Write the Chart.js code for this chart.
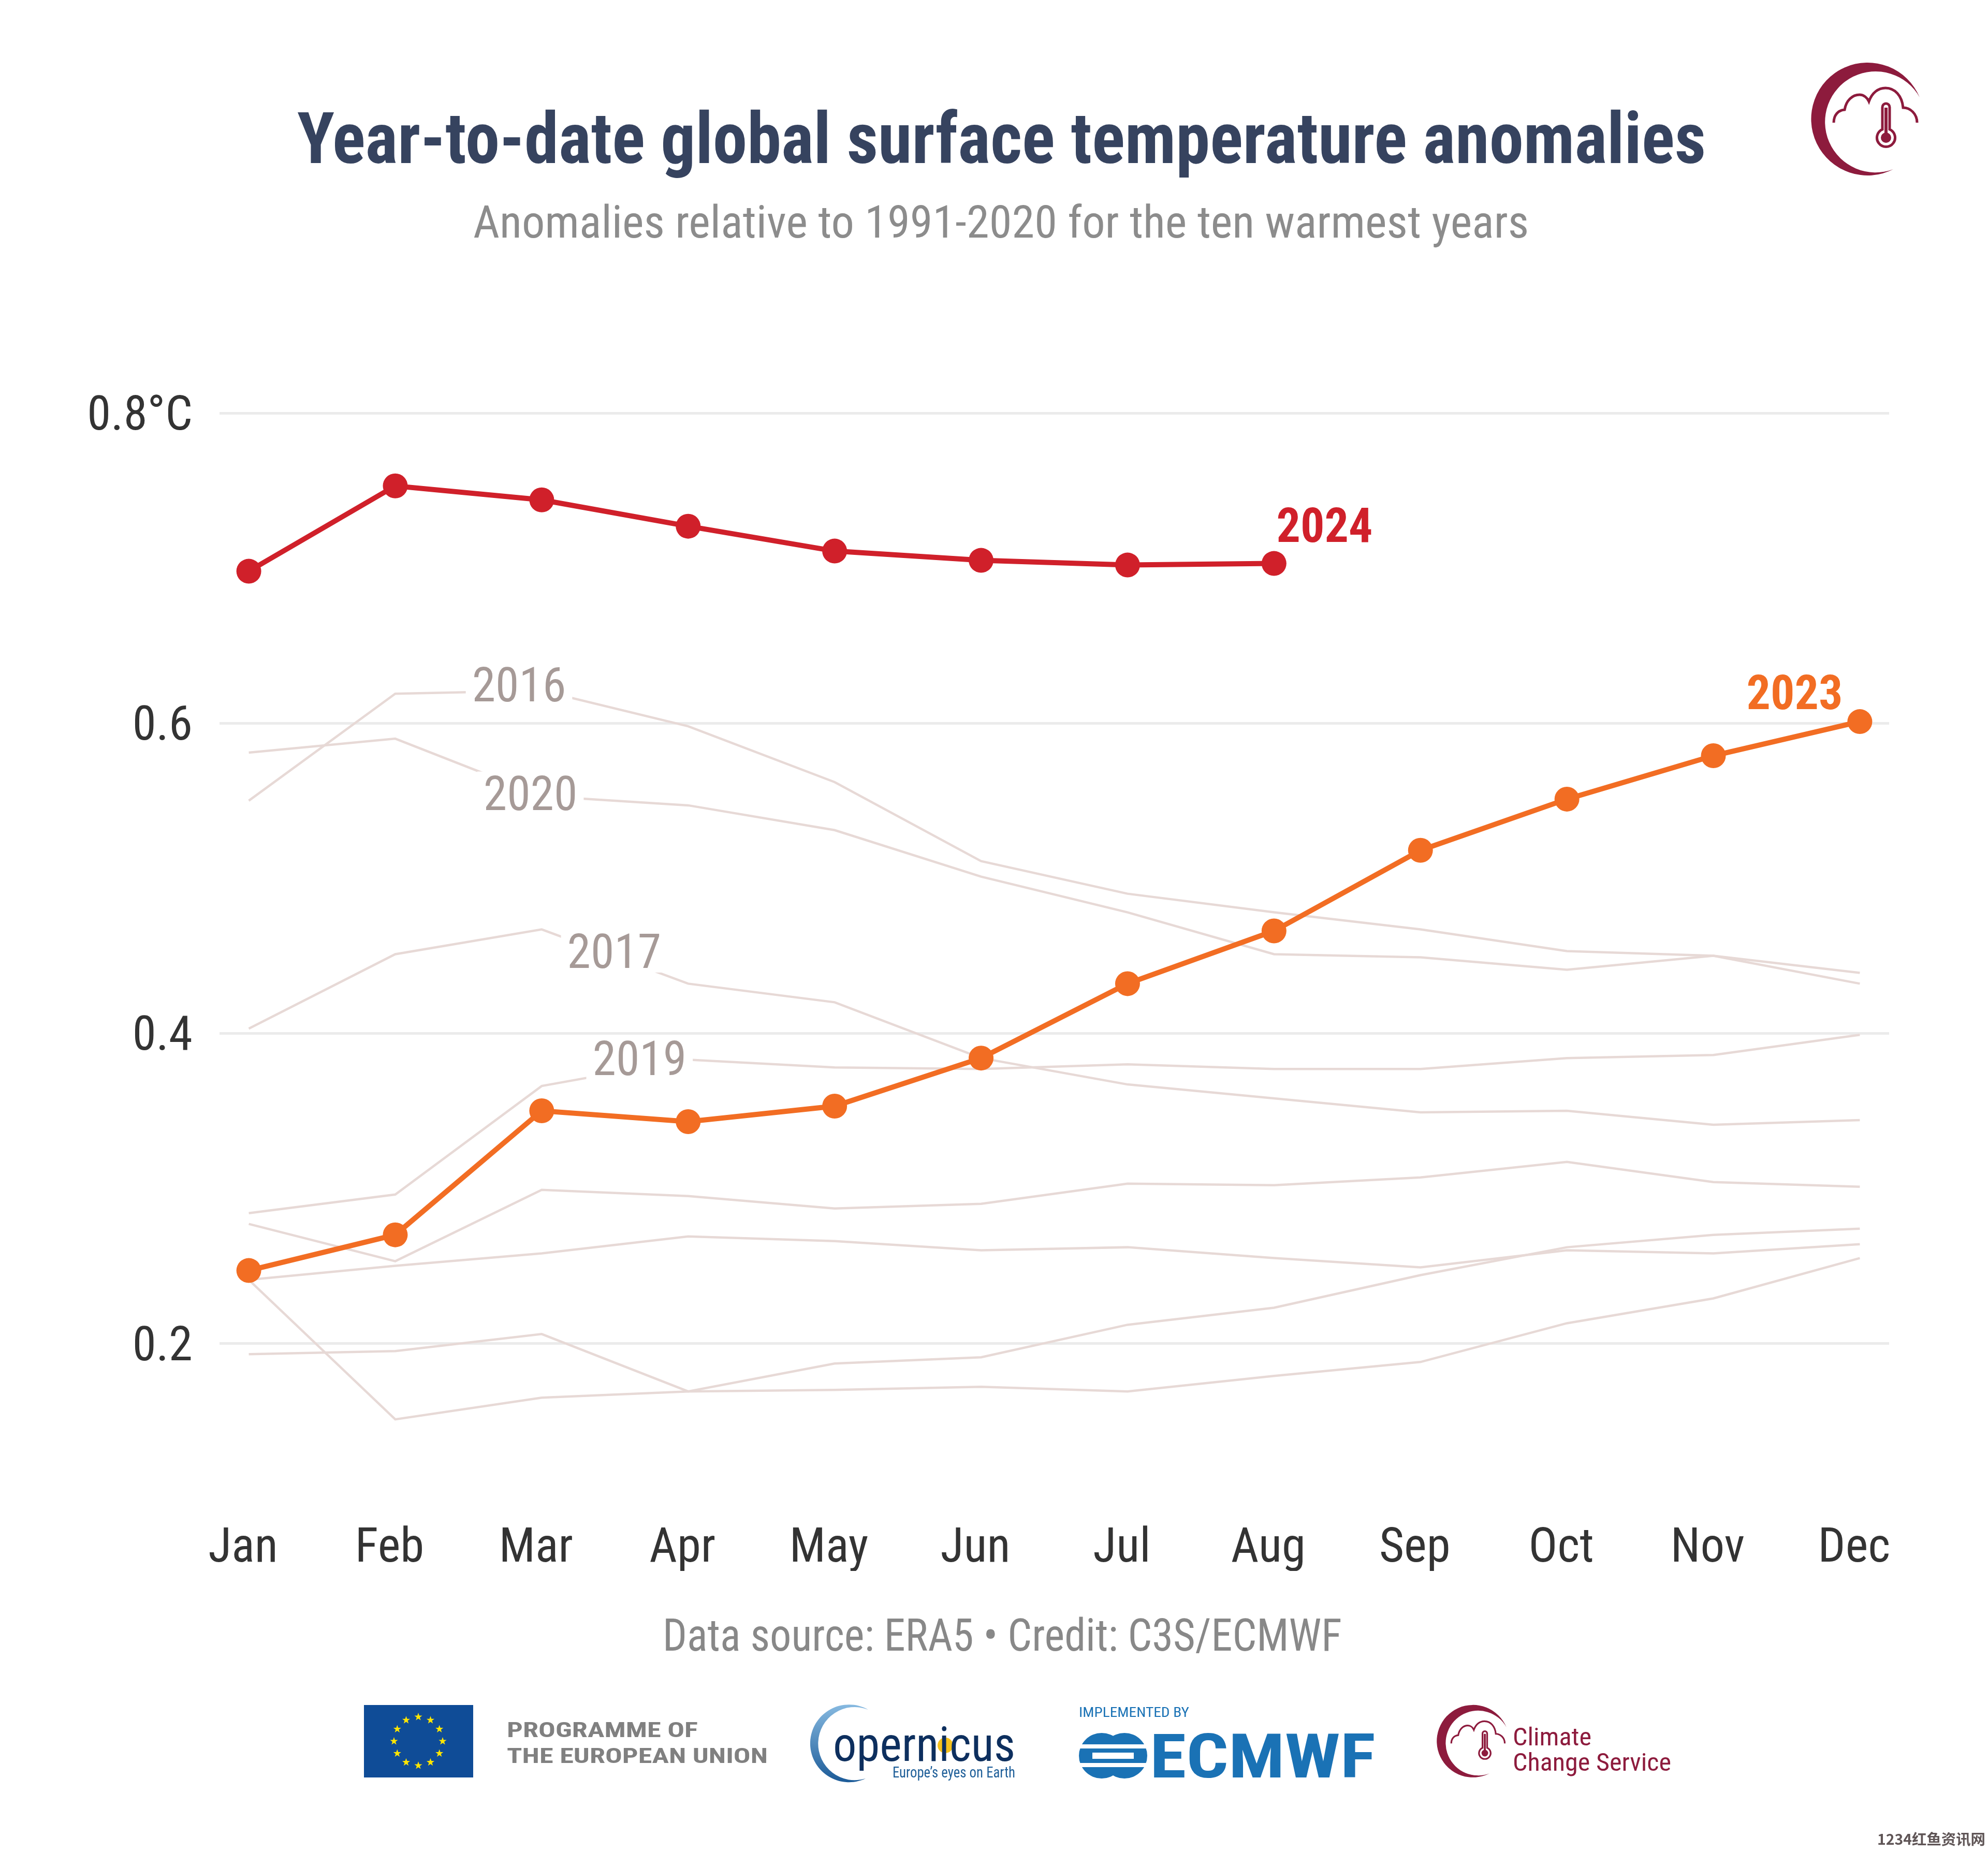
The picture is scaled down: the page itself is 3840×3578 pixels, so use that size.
<!DOCTYPE html>
<html>
<head>
<meta charset="utf-8">
<title>Year-to-date global surface temperature anomalies</title>
<script src="https://cdn.jsdelivr.net/npm/chart.js@4.4.1/dist/chart.umd.min.js"></script>
<style>
  html, body { margin: 0; padding: 0; background: #fff; }
  #page { position: relative; width: 3840px; height: 3578px; overflow: hidden; background: #fff; }
  #chart, #decor { position: absolute; left: 0; top: 0; }
  #decor text { font-family: 'Roboto Condensed', 'Liberation Sans Narrow', 'DejaVu Sans Condensed', Roboto, sans-serif; }
</style>
</head>
<body>
<div id="page">
  <canvas id="chart" width="3840" height="3578"></canvas>
  <svg id="decor" width="3840" height="3578" viewBox="0 0 3840 3578" xmlns="http://www.w3.org/2000/svg">
    <defs>
      <g id="c3sMark">
        <path d="M248 98 A109 109 0 1 0 197 237 A97.6 97.6 0 1 1 248 98 Z" fill="#8d1b3d"/>
        <path d="M82 147 C82 133 90 123 103 122 C106 104 118 93 132 93 C140 93 147 99 150 106 C156 89 168 80 182 80 C200 80 214 95 216 118 C230 118 243 130 243 147"
              fill="none" stroke="#8d1b3d" stroke-width="5"/>
        <path d="M176 160 V117 A7 7 0 0 1 190 117 V160 A17.5 17.5 0 1 1 176 160 Z" fill="#fff" stroke="#8d1b3d" stroke-width="5"/>
        <rect x="180" y="118" width="6" height="50" fill="#8d1b3d"/>
        <circle cx="183" cy="176" r="10" fill="#8d1b3d"/>
      </g>
      <linearGradient id="copGrad" x1="0" y1="0" x2="0" y2="1">
        <stop offset="0" stop-color="#86b9e0"/>
        <stop offset="1" stop-color="#1c5b98"/>
      </linearGradient>
    </defs>

    <!-- header -->
    <text x="574" y="315" font-size="138" font-weight="700" fill="#36435f"
          textLength="2721" lengthAdjust="spacingAndGlyphs">Year-to-date global surface temperature anomalies</text>
    <text x="914" y="459" font-size="88" fill="#8c8c8c"
          textLength="2039" lengthAdjust="spacingAndGlyphs">Anomalies relative to 1991-2020 for the ten warmest years</text>
    <use href="#c3sMark" transform="translate(3460,90)"/>

    <!-- footer -->
    <text x="1280" y="3189" font-size="88" fill="#888888"
          textLength="1312" lengthAdjust="spacingAndGlyphs">Data source: ERA5 • Credit: C3S/ECMWF</text>

    <rect x="703" y="3294" width="211" height="140" fill="#0f4c97"/>
    <g id="euStars" fill="#ffe600"></g>
    <text x="979" y="3356" font-size="40" font-weight="700" fill="#808080"
          textLength="369" lengthAdjust="spacingAndGlyphs">PROGRAMME OF</text>
    <text x="979" y="3406" font-size="40" font-weight="700" fill="#808080"
          textLength="504" lengthAdjust="spacingAndGlyphs">THE EUROPEAN UNION</text>

    <path d="M1677 3303 A75 75 0 1 0 1672 3436 A70.6 70.6 0 1 1 1677 3303 Z" fill="url(#copGrad)"/>
    <circle cx="1826" cy="3372" r="15" fill="#f6c21c"/>
    <text x="1609" y="3402" font-size="92" fill="#0d2f5e"
          textLength="352" lengthAdjust="spacingAndGlyphs">opernicus</text>
    <text x="1724" y="3434" font-size="30" fill="#1f5f99"
          textLength="237" lengthAdjust="spacingAndGlyphs">Europe’s eyes on Earth</text>

    <text x="2084" y="3317" font-size="26" fill="#1a72b5"
          textLength="213" lengthAdjust="spacingAndGlyphs">IMPLEMENTED BY</text>
    <g fill="#1a72b5">
      <circle cx="2128" cy="3392" r="44"/>
      <circle cx="2172" cy="3392" r="44"/>
    </g>
    <g fill="#fff">
      <rect x="2084" y="3370" width="132" height="8"/>
      <rect x="2084" y="3406" width="132" height="8"/>
      <rect x="2110" y="3386" width="80" height="12"/>
    </g>
    <text x="2221" y="3434" font-size="118" font-weight="700" fill="#1a72b5"
          textLength="436" lengthAdjust="spacingAndGlyphs">ECMWF</text>

    <use href="#c3sMark" transform="translate(2750.6,3274) scale(0.642)"/>
    <text x="2922" y="3372" font-size="48" fill="#8d1b3d"
          textLength="152" lengthAdjust="spacingAndGlyphs">Climate</text>
    <text x="2922" y="3421" font-size="48" fill="#8d1b3d"
          textLength="306" lengthAdjust="spacingAndGlyphs">Change Service</text>

    <text x="3626" y="3564" font-size="28" font-weight="700" fill="#5f5556"
          style="font-family:'Noto Sans CJK SC',sans-serif"
          textLength="209" lengthAdjust="spacingAndGlyphs">1234红鱼资讯网</text>
  </svg>
</div>
<script>
// month categories and tick labels
const months = ["Jan", "Feb", "Mar", "Apr", "May", "Jun", "Jul", "Aug", "Sep", "Oct", "Nov", "Dec"];
const yTickValues = [0.2, 0.4, 0.6, 0.8];
const yTickLabels = ["0.2", "0.4", "0.6", "0.8°C"];

// year-to-date anomalies (°C)
const y2024 = [0.698, 0.753, 0.744, 0.727, 0.711, 0.705, 0.702, 0.703];
const y2023 = [0.247, 0.270, 0.350, 0.343, 0.353, 0.384, 0.432, 0.466, 0.518, 0.551, 0.579, 0.601];
const y2016 = [0.550, 0.619, 0.621, 0.598, 0.562, 0.511, 0.490, 0.478, 0.467, 0.453, 0.450, 0.439];
const y2020 = [0.581, 0.590, 0.553, 0.547, 0.531, 0.501, 0.478, 0.451, 0.449, 0.441, 0.450, 0.432];
const y2017 = [0.403, 0.451, 0.467, 0.432, 0.420, 0.384, 0.367, 0.358, 0.349, 0.350, 0.341, 0.344];
const y2019 = [0.284, 0.296, 0.366, 0.383, 0.378, 0.377, 0.380, 0.377, 0.377, 0.384, 0.386, 0.399];
// the other four warm years are not labelled in the chart
const otherA = [0.277, 0.253, 0.299, 0.295, 0.287, 0.290, 0.303, 0.302, 0.307, 0.317, 0.304, 0.301];
const otherB = [0.241, 0.250, 0.258, 0.269, 0.266, 0.260, 0.262, 0.255, 0.249, 0.260, 0.258, 0.264];
const otherC = [0.193, 0.195, 0.206, 0.169, 0.187, 0.191, 0.212, 0.223, 0.244, 0.262, 0.270, 0.274];
const otherD = [0.241, 0.151, 0.165, 0.169, 0.170, 0.172, 0.169, 0.179, 0.188, 0.213, 0.229, 0.255];

const narrow = "'Roboto Condensed', 'Liberation Sans Narrow', 'DejaVu Sans Condensed', Roboto, sans-serif";
const grey = "#e7d9d6";
const red = "#d0202a";
const orange = "#f26d23";

// in-chart year labels, anchored in data units (month index, °C)
const yearLabels = [
  { text: "2016", x: 1.845, y: 0.625, color: "#a69a97", bold: false, box: true },
  { text: "2020", x: 1.923, y: 0.555, color: "#a69a97", bold: false, box: true },
  { text: "2017", x: 2.495, y: 0.453, color: "#a69a97", bold: false, box: true },
  { text: "2019", x: 2.668, y: 0.384, color: "#a69a97", bold: false, box: true },
  { text: "2024", x: 7.345, y: 0.728, color: red, bold: true, box: false },
  { text: "2023", x: 10.555, y: 0.620, color: orange, bold: true, box: false },
];

// EU flag stars
(function () {
  const g = document.getElementById("euStars");
  const cx = 808, cy = 3364, R = 47, r = 8;
  for (let k = 0; k < 12; k++) {
    const a = k * Math.PI / 6;
    const sx = cx + R * Math.sin(a), sy = cy - R * Math.cos(a);
    let d = "";
    for (let j = 0; j < 10; j++) {
      const rr = j % 2 ? r * 0.4 : r;
      const t = j * Math.PI / 5;
      d += (j ? "L" : "M") + (sx + rr * Math.sin(t)).toFixed(1) + " " + (sy - rr * Math.cos(t)).toFixed(1);
    }
    const p = document.createElementNS("http://www.w3.org/2000/svg", "path");
    p.setAttribute("d", d + "Z");
    g.appendChild(p);
  }
})();

const toPoints = arr => arr.map((v, i) => ({ x: i, y: v }));

function greyLine(label, values) {
  return {
    label: label,
    data: toPoints(values),
    borderColor: grey,
    borderWidth: 4.5,
    pointRadius: 0,
    tension: 0,
    order: 3,
  };
}

const yearLabelPlugin = {
  id: "yearLabels",
  afterDatasetsDraw(chart) {
    const { ctx, scales } = chart;
    const size = 92;
    ctx.save();
    yearLabels.forEach(l => {
      ctx.font = (l.bold ? "bold " : "") + size + "px " + narrow;
      const px = scales.x.getPixelForValue(l.x);
      const py = scales.y.getPixelForValue(l.y);
      const w = ctx.measureText(l.text).width;
      if (l.box) {
        ctx.fillStyle = "#fff";
        ctx.fillRect(px - w / 2 - 12, py - size * 0.45, w + 24, size * 0.9);
      }
      ctx.fillStyle = l.color;
      ctx.textAlign = "center";
      ctx.textBaseline = "alphabetic";
      ctx.fillText(l.text, px, py + size * 0.358);
    });
    ctx.restore();
  },
};

new Chart(document.getElementById("chart"), {
  type: "line",
  data: {
    datasets: [
      {
        label: "2024",
        data: toPoints(y2024),
        borderColor: red,
        backgroundColor: red,
        borderWidth: 10,
        pointRadius: 24,
        pointBorderWidth: 0,
        order: 1,
      },
      {
        label: "2023",
        data: toPoints(y2023),
        borderColor: orange,
        backgroundColor: orange,
        borderWidth: 10,
        pointRadius: 24,
        pointBorderWidth: 0,
        order: 2,
      },
      greyLine("2016", y2016),
      greyLine("2020", y2020),
      greyLine("2017", y2017),
      greyLine("2019", y2019),
      greyLine("other A", otherA),
      greyLine("other B", otherB),
      greyLine("other C", otherC),
      greyLine("other D", otherD),
    ],
  },
  options: {
    responsive: false,
    animation: false,
    devicePixelRatio: 1,
    layout: { padding: { top: 798, right: 191, bottom: 543, left: 0 } },
    plugins: {
      legend: { display: false },
      tooltip: { enabled: false },
    },
    scales: {
      x: {
        type: "linear",
        min: -0.2,
        max: 11.2,
        afterBuildTicks: axis => { axis.ticks = months.map((m, i) => ({ value: i })); },
        afterFit: axis => { axis.height = 200; },
        grid: { display: false },
        border: { display: false },
        ticks: {
          callback: v => months[v],
          color: "#333333",
          font: { family: narrow, size: 93 },
          padding: 95,
          labelOffset: -11,
          maxRotation: 0,
          autoSkip: false,
        },
      },
      y: {
        min: 0.12,
        max: 0.8,
        afterBuildTicks: axis => { axis.ticks = yTickValues.map(v => ({ value: v })); },
        afterFit: axis => { axis.width = 424; },
        grid: { color: "#ebebeb", lineWidth: 5, drawTicks: false },
        border: { display: false },
        ticks: {
          callback: (v, i) => yTickLabels[i],
          color: "#333333",
          font: { family: narrow, size: 93 },
          padding: 52,
          labelOffset: 9,
        },
      },
    },
  },
  plugins: [yearLabelPlugin],
});
</script>
</body>
</html>
